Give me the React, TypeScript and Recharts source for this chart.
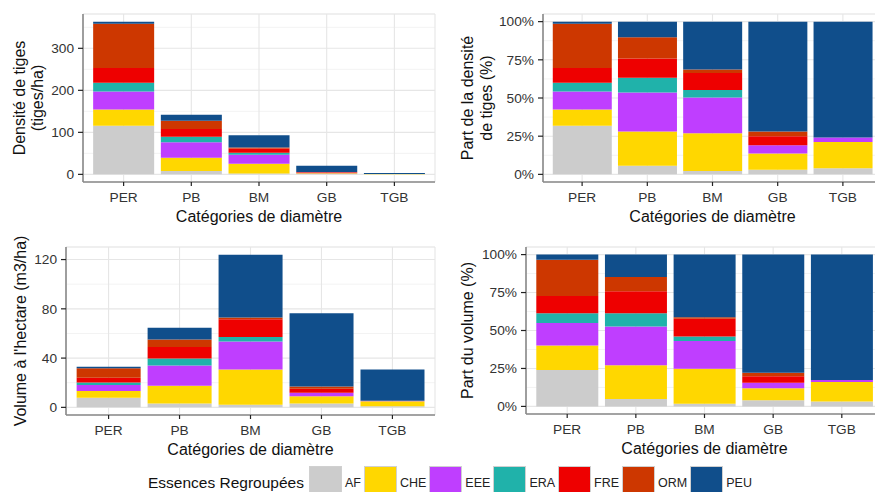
import React from 'react';
import { BarChart, Bar, XAxis, YAxis, CartesianGrid, Label } from 'recharts';

const CATEGORIES = ['PER', 'PB', 'BM', 'GB', 'TGB'];
const SPECIES = ['AF', 'CHE', 'EEE', 'ERA', 'FRE', 'ORM', 'PEU'];
const SPECIES_COLORS = ['#CCCCCC', '#FFD700', '#BF3EFF', '#20B2AA', '#EE0000', '#CD3700', '#104E8B'];

// Densité de tiges (tiges/ha) par essence, par catégorie de diamètre
const DENSITY_AF = [116, 8.1, 2.0, 0.64, 0.13];
const DENSITY_CHE = [38.5, 31.7, 23.0, 2.17, 0.55];
const DENSITY_EEE = [43.0, 36.4, 21.8, 1.12, 0.09];
const DENSITY_ERA = [20.7, 13.6, 4.5, 0, 0];
const DENSITY_FRE = [35.0, 18.0, 10.4, 1.22, 0];
const DENSITY_ORM = [105.0, 19.6, 2.2, 0.64, 0];
const DENSITY_PEU = [5.3, 14.6, 29.1, 14.9, 2.43];

// Volume à l'hectare (m3/ha) par essence, par catégorie de diamètre
const VOLUME_AF = [7.9, 3.2, 2.1, 3.1, 1.0];
const VOLUME_CHE = [5.3, 14.3, 28.6, 6.0, 3.95];
const VOLUME_EEE = [4.9, 16.5, 22.7, 2.8, 0.4];
const VOLUME_ERA = [2.1, 5.6, 3.8, 0, 0];
const VOLUME_FRE = [3.75, 9.4, 14.3, 3.3, 0];
const VOLUME_ORM = [7.85, 6.1, 1.4, 1.7, 0];
const VOLUME_PEU = [1.1, 9.5, 51.1, 59.6, 25.45];

const DENSITY_TICKS = [0, 100, 200, 300];
const DENSITY_MINOR = [50, 150, 250, 350];
const VOLUME_TICKS = [0, 40, 80, 120];
const VOLUME_MINOR = [20, 60, 100];
const SHARE_TICKS = [0, 0.25, 0.5, 0.75, 1];
const SHARE_MINOR = [0.125, 0.375, 0.625, 0.875];

const DENSITY_SERIES = [DENSITY_AF, DENSITY_CHE, DENSITY_EEE, DENSITY_ERA, DENSITY_FRE, DENSITY_ORM, DENSITY_PEU];
const VOLUME_SERIES = [VOLUME_AF, VOLUME_CHE, VOLUME_EEE, VOLUME_ERA, VOLUME_FRE, VOLUME_ORM, VOLUME_PEU];

const totalAt = (series: number[][], i: number) => series.reduce((s, arr) => s + arr[i], 0);

const buildRows = (series: number[][], share: boolean) =>
  CATEGORIES.map((cat, i) => {
    const row: Record<string, any> = { cat };
    const tot = totalAt(series, i);
    SPECIES.forEach((sp, j) => {
      row[sp] = share ? series[j][i] / tot : series[j][i];
    });
    return row;
  });

const maxTotal = (series: number[][]) => Math.max(...CATEGORIES.map((_, i) => totalAt(series, i)));

const DENSITY_ROWS = buildRows(DENSITY_SERIES, false);
const DENSITY_SHARE_ROWS = buildRows(DENSITY_SERIES, true);
const VOLUME_ROWS = buildRows(VOLUME_SERIES, false);
const VOLUME_SHARE_ROWS = buildRows(VOLUME_SERIES, true);

const FONT = '"Liberation Sans", Arial, Helvetica, sans-serif';
const BORDER = '#8A8A8A';
const TICK_COLOR = '#333333';

const YTitle = (props: any) => {
  const { viewBox, lines, xs } = props;
  const cy = viewBox.y + viewBox.height / 2;
  return (
    <g>
      {lines.map((l: string, i: number) => (
        <text
          key={i}
          x={xs[i]}
          y={cy}
          transform={`rotate(-90, ${xs[i]}, ${cy})`}
          textAnchor="middle"
          dominantBaseline="central"
          fontSize={16}
          fontFamily={FONT}
          fill="#111"
        >
          {l}
        </text>
      ))}
    </g>
  );
};

const XTitle = (props: any) => {
  const { viewBox, text, dy } = props;
  return (
    <text
      x={viewBox.x + viewBox.width / 2}
      y={viewBox.y + dy}
      textAnchor="middle"
      dominantBaseline="central"
      fontSize={16}
      fontFamily={FONT}
      fill="#111"
    >
      {text}
    </text>
  );
};

type PanelProps = {
  left: number;
  top: number;
  width: number;
  height: number;
  marginTop: number;
  marginRight: number;
  yAxisWidth: number;
  plotHeight: number;
  rows: any[];
  percent: boolean;
  domain: [number, number];
  ticks: number[];
  minor: number[];
  yLines: string[];
  yXs: number[];
};

const Panel = (p: PanelProps) => {
  const plotWidth = p.width - p.marginRight - p.yAxisWidth;
  const pad = plotWidth / 52;
  const xAxisHeight = p.height - p.marginTop - p.plotHeight;
  const fmt = p.percent ? (v: number) => `${Math.round(v * 100)}%` : (v: number) => `${v}`;
  return (
    <div style={{ position: 'absolute', left: p.left, top: p.top }}>
      <BarChart
        width={p.width}
        height={p.height}
        data={p.rows}
        margin={{ top: p.marginTop, right: p.marginRight, left: 0, bottom: 0 }}
        barCategoryGap="5%"
      >
        <YAxis yAxisId="minor" hide type="number" domain={p.domain} ticks={p.minor} allowDataOverflow />
        <CartesianGrid yAxisId="minor" vertical={false} stroke="#F3F3F3" strokeWidth={1} />
        <CartesianGrid stroke="#E6E6E6" strokeWidth={1.1} />
        <XAxis
          dataKey="cat"
          type="category"
          padding={{ left: pad, right: pad }}
          height={xAxisHeight}
          axisLine={{ stroke: BORDER, strokeWidth: 1.6 }}
          tickLine={{ stroke: '#222', strokeWidth: 1.2 }}
          tickSize={4}
          tickMargin={6}
          tick={{ fill: TICK_COLOR, fontSize: 13.7, fontFamily: FONT }}
          interval={0}
        >
          <Label content={<XTitle text="Catégories de diamètre" dy={34.5} />} />
        </XAxis>
        <XAxis
          xAxisId="top"
          dataKey="cat"
          orientation="top"
          height={0}
          tick={false}
          tickLine={false}
          axisLine={{ stroke: BORDER, strokeWidth: 1.6 }}
        />
        <YAxis
          type="number"
          width={p.yAxisWidth}
          domain={p.domain}
          ticks={p.ticks}
          allowDataOverflow
          tickFormatter={fmt}
          axisLine={{ stroke: BORDER, strokeWidth: 1.6 }}
          tickLine={{ stroke: '#222', strokeWidth: 1.2 }}
          tickSize={5}
          tickMargin={4}
          tick={{ fill: TICK_COLOR, fontSize: 13.7, fontFamily: FONT }}
        >
          <Label content={<YTitle lines={p.yLines} xs={p.yXs} />} />
        </YAxis>
        <YAxis
          yAxisId="right"
          orientation="right"
          width={0}
          type="number"
          domain={[0, 1]}
          tick={false}
          tickLine={false}
          axisLine={{ stroke: BORDER, strokeWidth: 1.6 }}
        />
        {SPECIES.map((sp, i) => (
          <Bar key={sp} dataKey={sp} stackId="s" fill={SPECIES_COLORS[i]} isAnimationActive={false} />
        ))}
      </BarChart>
    </div>
  );
};

const Legend = () => (
  <div
    style={{
      position: 'absolute',
      left: 148,
      top: 466,
      height: 33,
      display: 'flex',
      alignItems: 'center',
      fontFamily: FONT,
      whiteSpace: 'nowrap',
    }}
  >
    <span style={{ fontSize: 15.5, color: '#111', marginRight: 5 }}>Essences Regroupées</span>
    {SPECIES.map((sp, i) => (
      <React.Fragment key={sp}>
        <span
          style={{
            display: 'inline-block',
            boxSizing: 'border-box',
            width: 33,
            height: 33,
            background: SPECIES_COLORS[i],
            border: '1.5px solid #D0D0D0',
          }}
        />
        <span style={{ fontSize: 12.5, color: '#222', marginLeft: 3, marginRight: 3 }}>{sp}</span>
      </React.Fragment>
    ))}
  </div>
);

export default function App() {
  const dMax = maxTotal(DENSITY_SERIES);
  const vMax = maxTotal(VOLUME_SERIES);
  const dDomain: [number, number] = [-0.05 * dMax, 1.05 * dMax];
  const vDomain: [number, number] = [-0.05 * vMax, 1.05 * vMax];
  const sDomain: [number, number] = [-0.05, 1.05];
  return (
    <div
      style={{
        position: 'absolute',
        left: 0,
        top: 0,
        width: 875,
        height: 492,
        overflow: 'hidden',
        background: '#fff',
        fontFamily: FONT,
      }}
    >
      <Panel
        left={0}
        top={0}
        width={440}
        height={230}
        marginTop={14}
        marginRight={5}
        yAxisWidth={83}
        plotHeight={168}
        rows={DENSITY_ROWS}
        percent={false}
        domain={dDomain}
        ticks={DENSITY_TICKS}
        minor={DENSITY_MINOR}
        yLines={['Densité de tiges', '(tiges/ha)']}
        yXs={[19, 37.5]}
      />
      <Panel
        left={440}
        top={0}
        width={446}
        height={230}
        marginTop={14}
        marginRight={4}
        yAxisWidth={103}
        plotHeight={168}
        rows={DENSITY_SHARE_ROWS}
        percent={true}
        domain={sDomain}
        ticks={SHARE_TICKS}
        minor={SHARE_MINOR}
        yLines={['Part de la densité', 'de tiges (%)']}
        yXs={[27.5, 46]}
      />
      <Panel
        left={0}
        top={230}
        width={440}
        height={230}
        marginTop={17}
        marginRight={5}
        yAxisWidth={66}
        plotHeight={168}
        rows={VOLUME_ROWS}
        percent={false}
        domain={vDomain}
        ticks={VOLUME_TICKS}
        minor={VOLUME_MINOR}
        yLines={["Volume à l'hectare (m3/ha)"]}
        yXs={[20]}
      />
      <Panel
        left={440}
        top={230}
        width={447}
        height={230}
        marginTop={17}
        marginRight={4}
        yAxisWidth={86}
        plotHeight={167}
        rows={VOLUME_SHARE_ROWS}
        percent={true}
        domain={sDomain}
        ticks={SHARE_TICKS}
        minor={SHARE_MINOR}
        yLines={['Part du volume (%)']}
        yXs={[27.5]}
      />
      <Legend />
    </div>
  );
}
